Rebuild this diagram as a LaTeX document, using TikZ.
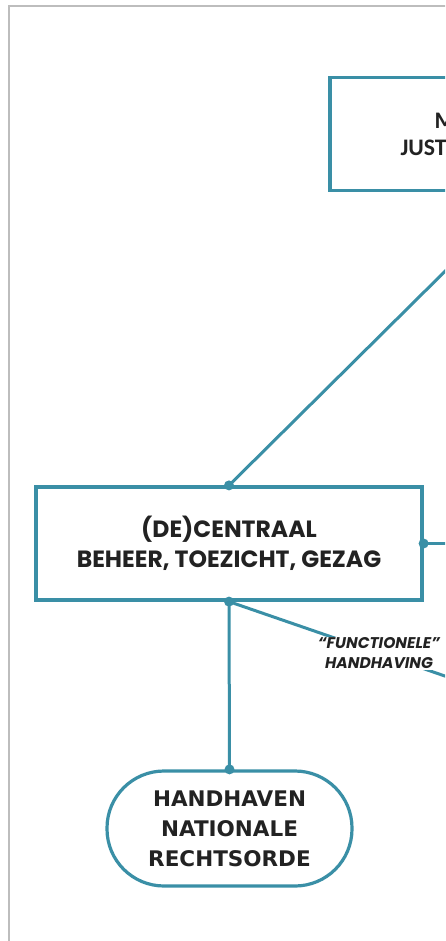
\documentclass[tikz,border=0pt]{standalone}
\usepackage{fontspec}
\newfontfamily\midfont{Poppins}
\newfontfamily\botfont{DejaVu Sans}
\newfontfamily\topfont{Carlito}
\newfontfamily\lblfont{Poppins}
\definecolor{tealc}{HTML}{3A8FA6}
\definecolor{framec}{HTML}{BDBDBD}
\definecolor{textc}{HTML}{222222}
\tikzset{
  conn/.style={draw=tealc, line width=3pt},
  boxr/.style={draw=tealc, line width=3.2pt, fill=white, text=textc, align=center, inner sep=0pt},
  dot/.style={circle, fill=tealc, inner sep=0pt, minimum size=10pt},
  lbl/.style={fill=white, text=textc, align=center, inner sep=1pt, font=\lblfont\bfseries\itshape\fontsize{15.5}{20}\selectfont}
}
\begin{document}
\begin{tikzpicture}[x=1pt,y=-1pt]
\useasboundingbox (0,0) rectangle (445,941);
\clip (0,0) rectangle (445,941);
\fill[white] (0,0) rectangle (445,941);
\draw[framec, line width=1.6pt] (9,945) -- (9,6) -- (450,6);
% nodes
\node[boxr, minimum width=372pt, minimum height=113pt,
      font=\topfont\bfseries\fontsize{23.7}{27}\selectfont] (top) at (516,134) {MINISTERIE VAN\\JUSTITIE EN VEILIGHEID};
\node[boxr, minimum width=386pt, minimum height=113pt,
      font=\midfont\bfseries\fontsize{23.5}{30}\selectfont] (mid) at (229,543.5) {(DE)CENTRAAL\\BEHEER, TOEZICHT, GEZAG};
\node[boxr, minimum width=245pt, minimum height=115pt, rounded corners=57pt,
      font=\botfont\bfseries\fontsize{21.5}{30}\selectfont] (bot) at (229.5,828.5) {HANDHAVEN\\NATIONALE\\RECHTSORDE};
\coordinate (tb) at (526,191);
\coordinate (er) at (470,543.5);
\coordinate (fr) at (529,705);
% connectors
\draw[conn] (mid.north) -- (tb);
\draw[conn] (mid.east) -- (er);
\draw[conn] (mid.south) -- (bot.north);
\draw[conn] (mid.south) -- node[lbl, pos=0.5] (fh) {“FUNCTIONELE”\\HANDHAVING} (fr);
% dots
\node[dot] (d1) at (mid.north) {};
\node[dot] (d2) at (mid.east) {};
\node[dot] (d3) at (mid.south) {};
\node[dot] (d4) at (bot.north) {};
\end{tikzpicture}
\end{document}
